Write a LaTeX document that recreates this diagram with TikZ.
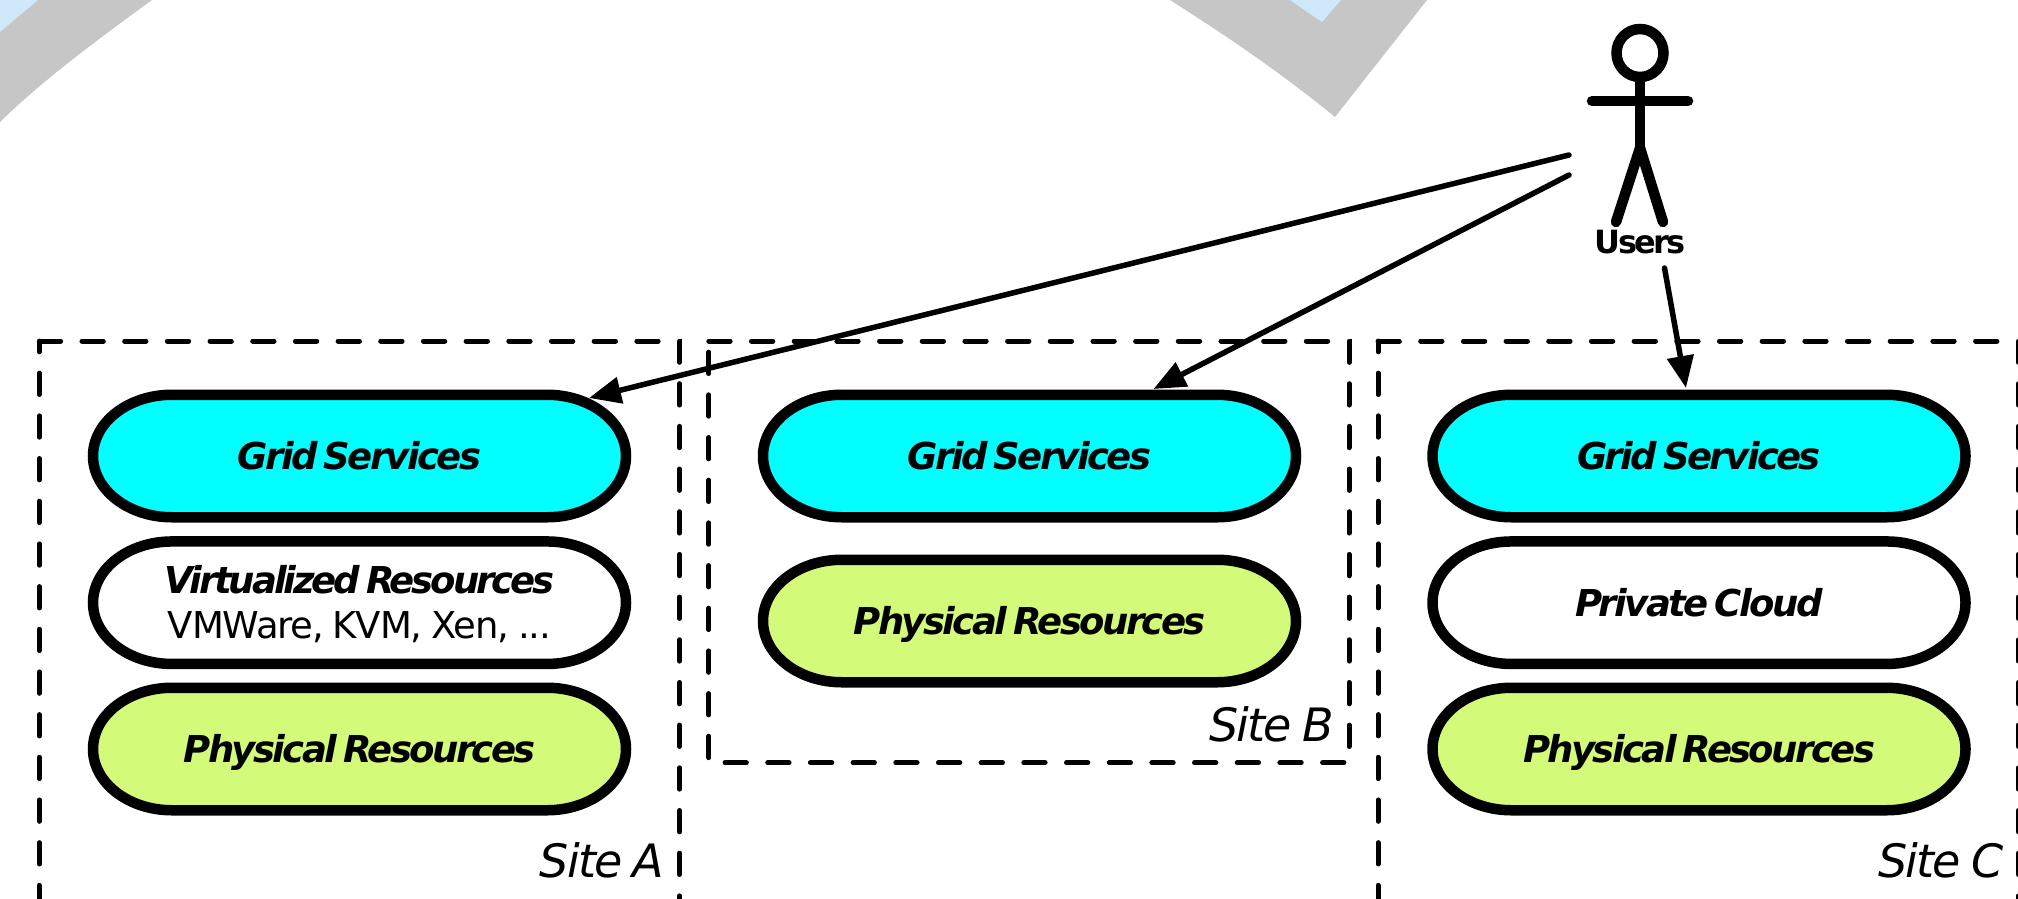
\documentclass[tikz,border=0pt]{standalone}
\usepackage{fontspec}
\usetikzlibrary{arrows.meta}
\setmainfont{DejaVu Sans}
\newfontfamily\labelfont[LetterSpace=-7,WordSpace=0.6]{DejaVu Sans Bold Oblique}
\newfontfamily\virtfont[LetterSpace=-8.3,WordSpace=0.6]{DejaVu Sans Bold Oblique}
\newfontfamily\subfont[LetterSpace=-3,WordSpace=0.8]{DejaVu Sans}
\newfontfamily\sitefont[LetterSpace=-4,WordSpace=0.8]{DejaVu Sans Oblique}
\newfontfamily\userfont[LetterSpace=-9]{DejaVu Sans Bold}
\definecolor{gridc}{HTML}{00FFFF}
\definecolor{physc}{HTML}{D3FB79}
\definecolor{bandc}{HTML}{C6C6C6}
\definecolor{skyc}{HTML}{CFE9FB}
\tikzset{
  x=1pt,y=-1pt,
  pillline/.style={draw=black,line width=10.5pt},
  pilltext/.style={font=\labelfont\fontsize{37}{42}\selectfont,text=black,inner sep=0pt,align=center},
  pillone/.style={text height=27pt,text depth=0pt},
  sitebox/.style={draw=black,line width=5pt,line cap=round,dash pattern=on 21.34pt off 21.34pt},
  sitelabel/.style={font=\sitefont\fontsize{46}{50}\selectfont,inner sep=0pt,anchor=base east},
  actor/.style={draw=black,line width=10.5pt,line cap=round},
  arr/.style={draw=black,line width=5.5pt,line cap=round,-{Triangle[length=32pt,width=26pt]}},
}
\newcommand{\pill}[6][pillone]{%
  \draw[pillline,fill=#5,shift={(#3,#4)}]
    (-187.5,-61.25) -- (187.5,-61.25)
    .. controls (231.1,-61.25) and (266.5,-33.8) .. (266.5,0)
    .. controls (266.5,33.8) and (231.1,61.25) .. (187.5,61.25)
    -- (-187.5,61.25)
    .. controls (-231.1,61.25) and (-266.5,33.8) .. (-266.5,0)
    .. controls (-266.5,-33.8) and (-231.1,-61.25) .. (-187.5,-61.25) -- cycle;
  \node[pilltext,#1] (#2) at (#3,#4) {#6};}
\begin{document}
\begin{tikzpicture}
\useasboundingbox (0,0) rectangle (2018,898);
\clip (0,0) rectangle (2018,898);
% background
\fill[bandc] (152,0) .. controls (100,38) and (45,78) .. (0,122) -- (0,0) -- cycle;
\fill[skyc] (38,0) -- (0,32) -- (0,0) -- cycle;
\fill[bandc] (1170,0) .. controls (1225,35) and (1280,72) .. (1335,117) -- (1427,0) -- cycle;
\fill[skyc] (1290,0) -- (1322,22) -- (1341,0) -- cycle;
% site frames
\draw[sitebox] (39.3,341) -- (679.5,341) -- (679.5,965.27) -- (39.3,965.27) -- (39.3,341);
\draw[sitebox] (708.8,341) -- (1349,341) -- (1349,762.7) -- (708.8,762.7) -- (708.8,341);
\draw[sitebox] (1378,341) -- (2018.2,341) -- (2018.2,965.27) -- (1378,965.27) -- (1378,341);
% pills
\pill{gridA}{359.5}{456}{gridc}{Grid Services}
\pill[yshift=-1.3pt]{virtA}{359.5}{602.7}{white}{{\virtfont Virtualized Resources}\\[3pt]{\subfont\fontsize{37}{42}\selectfont VMWare, KVM, Xen, ...}}
\pill{physA}{359.5}{749}{physc}{Physical Resources}
\pill{gridB}{1029.5}{456}{gridc}{Grid Services}
\pill{physB}{1029.5}{621}{physc}{Physical Resources}
\pill{gridC}{1699}{456}{gridc}{Grid Services}
\pill{privC}{1699}{602.7}{white}{Private Cloud}
\pill{physC}{1699}{749}{physc}{Physical Resources}
% site labels
\node[sitelabel] (siteA) at (664.5,877) {Site A};
\node[sitelabel] (siteB) at (1334,741) {Site B};
\node[sitelabel] (siteC) at (2003.5,877) {Site C};
% actor
\draw[actor] (1640,53) ellipse (23.5 and 24);
\draw[actor,line cap=butt] (1640,77) -- (1640,148);
\draw[actor] (1592,101) -- (1688,101);
\draw[actor] (1616,222) -- (1640,148) -- (1663,222);
\node[font=\userfont\fontsize{32}{36}\selectfont,inner sep=0pt] (users) at (1640,242) {Users};
% connectors
\coordinate (u1) at (1569,155);
\coordinate (u2) at (1569,175);
\coordinate (u3) at (1664.5,268);
\draw[arr] (u1) -- ([shift={(229.5,-58)}]gridA.center);
\draw[arr] (u2) -- ([shift={(124,-67)}]gridB.center);
\draw[arr] (u3) -- ([shift={(-13,-68)}]gridC.center);
\end{tikzpicture}
\end{document}
